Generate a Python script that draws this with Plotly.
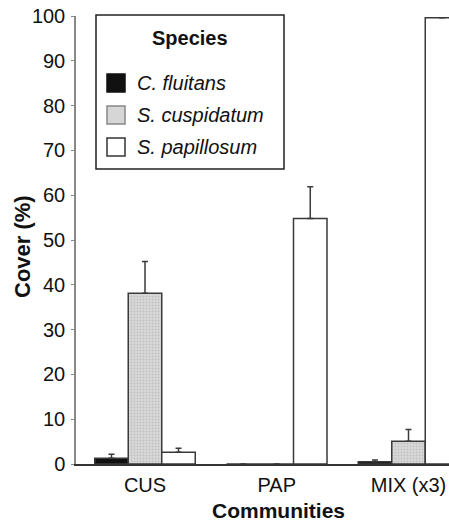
import plotly.graph_objects as go

communities = ["CUS", "PAP", "MIX (x3)"]
species = ["C. fluitans", "S. cuspidatum", "S. papillosum"]
c_fluitans = [1.3, 0.0, 0.5]
c_fluitans_err = [0.9, None, 0.4]
s_cuspidatum = [38.1, 0.0, 5.1]
s_cuspidatum_err = [7.1, None, 2.6]
s_papillosum = [2.6, 54.8, 99.6]
s_papillosum_err = [0.9, 7.1, None]
y_ticks = [0, 10, 20, 30, 40, 50, 60, 70, 80, 90, 100]

W, H = 449, 524
L, T, B = 76, 16, 60
PW, PH = W - L, H - T - B

def px(x):
    return (x - L) / PW

def py(y):
    return (H - B - y) / PH

FONT = "Liberation Sans, Arial, sans-serif"
EDGE = "#3a3a3a"

fig = go.Figure()
styles = [
    dict(color="#111111"),
    dict(color="#d6d6d6", pattern=dict(shape=".", fgcolor="#a8a8a8", bgcolor="#d9d9d9", size=3, solidity=0.35)),
    dict(color="#ffffff"),
]
series = [(c_fluitans, c_fluitans_err), (s_cuspidatum, s_cuspidatum_err), (s_papillosum, s_papillosum_err)]
for name, (vals, errs), st in zip(species, series, styles):
    fig.add_trace(go.Bar(
        x=communities, y=vals, name=name,
        marker=dict(**st, line=dict(color=EDGE, width=1.5)),
        error_y=dict(type="data", array=errs, symmetric=False, arrayminus=[0, 0, 0],
                     color=EDGE, thickness=1.5, width=3),
        showlegend=False,
    ))

# Legend (manual, matching the boxed legend of the original)
shapes = [dict(type="rect", xref="paper", yref="paper",
               x0=px(96), x1=px(284), y0=py(169), y1=py(15),
               line=dict(color="#222222", width=1.5), fillcolor="white", layer="above")]
annotations = [dict(text="<b>Species</b>", xref="paper", yref="paper",
                    x=px(190), y=py(38), xanchor="center", yanchor="middle",
                    showarrow=False, font=dict(family=FONT, size=20, color="#111"))]
legend_fill = ["#111111", "#d6d6d6", "#ffffff"]
legend_line = ["#111111", "#888888", "#333333"]
for i, name in enumerate(species):
    cy = 83 + 32 * i
    shapes.append(dict(type="rect", xref="paper", yref="paper",
                       x0=px(107), x1=px(125), y0=py(cy + 9), y1=py(cy - 9),
                       fillcolor=legend_fill[i], line=dict(color=legend_line[i], width=1.5),
                       layer="above"))
    annotations.append(dict(text="<i>" + name + "</i>", xref="paper", yref="paper",
                            x=px(135), y=py(cy), xanchor="left", yanchor="middle",
                            showarrow=False, font=dict(family=FONT, size=20, color="#111")))

annotations.append(dict(text="<b>Communities</b>", xref="paper", yref="paper",
                        x=px(278), y=py(511), xanchor="center", yanchor="middle",
                        showarrow=False, font=dict(family=FONT, size=21, color="#111")))
annotations.append(dict(text="<b>Cover (%)</b>", xref="paper", yref="paper",
                        x=px(22), y=py(246), xanchor="center", yanchor="middle", textangle=-90,
                        showarrow=False, font=dict(family=FONT, size=22, color="#111")))

fig.update_layout(
    width=W, height=H,
    margin=dict(l=L, r=0, t=T, b=B, pad=0),
    plot_bgcolor="white", paper_bgcolor="white",
    barmode="group", bargap=0.237, bargroupgap=0,
    font=dict(family=FONT, size=20, color="#111"),
    shapes=shapes, annotations=annotations,
    xaxis=dict(range=[-0.5237, 2.3074], showline=True, linecolor="#333333", linewidth=1.5,
               ticks="", showgrid=False, zeroline=False, ticklabelstandoff=2,
               tickfont=dict(family=FONT, size=20, color="#111")),
    yaxis=dict(range=[0, 100], tickvals=y_ticks, showline=True, linecolor="#888888", linewidth=1.5,
               ticks="outside", ticklen=3, tickcolor="#888888", tickwidth=1,
               showgrid=False, zeroline=False, ticklabelstandoff=2,
               tickfont=dict(family=FONT, size=20, color="#111")),
)

fig.write_html("out.html", config={"displayModeBar": False})

# remove the default page margin so the figure sits at the window's top-left corner
with open("out.html", encoding="utf-8") as f:
    html = f.read()
html = html.replace("<body>", '<body style="margin:0;overflow:hidden">', 1)
with open("out.html", "w", encoding="utf-8") as f:
    f.write(html)
